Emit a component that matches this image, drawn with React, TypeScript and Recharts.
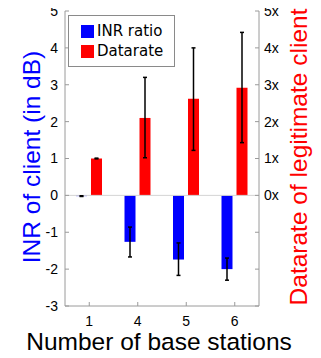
import React from 'react';
import {
  ComposedChart,
  Bar,
  XAxis,
  YAxis,
  ErrorBar,
  ReferenceLine,
  Legend,
} from 'recharts';

const stations = ['1', '4', '5', '6'];

// INR of client (dB), with error bounds
const inrRatio = [-0.02, -1.26, -1.74, -2.0];
const inrLow = [-0.03, -1.67, -2.17, -2.3];
const inrHigh = [-0.01, -0.86, -1.29, -1.7];

// datarate of legitimate client (x), with error bounds
const datarate = [1.0, 2.1, 2.62, 2.92];
const rateLow = [0.99, 1.02, 1.22, 1.43];
const rateHigh = [1.01, 3.2, 4.0, 4.42];

const leftTicks = [-3, -2, -1, 0, 1, 2, 3, 4, 5];

const AXIS = '#9a9a9a';

const data = stations.map((s, i) => ({
  name: s,
  inr: inrRatio[i],
  inrErr: [inrRatio[i] - inrLow[i], inrHigh[i] - inrRatio[i]],
  rate: datarate[i],
  rateErr: [datarate[i] - rateLow[i], rateHigh[i] - datarate[i]],
}));

function LegendBox() {
  const items = [
    { label: 'INR ratio', color: '#0000ff' },
    { label: 'Datarate', color: '#ff0000' },
  ];
  return (
    <div
      style={{
        width: 105,
        height: 45,
        border: '1px solid #8a8a8a',
        background: '#fff',
        fontFamily: '"DejaVu Sans", sans-serif',
        fontSize: 15,
        paddingTop: 5,
        boxSizing: 'content-box',
      }}
    >
      {items.map((it) => (
        <div key={it.label} style={{ display: 'flex', alignItems: 'center', height: 20, marginLeft: 12 }}>
          <span style={{ width: 13, height: 13, background: it.color, marginRight: 3 }} />
          <span style={{ color: '#000' }}>{it.label}</span>
        </div>
      ))}
    </div>
  );
}

export default function App() {
  return (
    <div style={{ marginLeft: -8, marginTop: -8, width: 321, height: 358 }}>
      <ComposedChart
        width={321}
        height={358}
        data={data}
        margin={{ top: 11, right: 0, bottom: 0, left: 0 }}
        style={{ fontFamily: '"Liberation Sans", Arial, sans-serif' }}
      >
        <XAxis
          dataKey="name"
          xAxisId="bottom"
          height={52}
          stroke={AXIS}
          tickSize={-4}
          tickMargin={14}
          tick={{ fill: '#000', fontSize: 14 }}
        />
        <XAxis
          dataKey="name"
          xAxisId="top"
          orientation="top"
          height={0}
          stroke={AXIS}
          tickSize={-4}
          tickFormatter={() => ''}
        />
        <YAxis
          yAxisId="left"
          width={65}
          domain={[-3, 5]}
          ticks={leftTicks}
          interval={0}
          stroke={AXIS}
          tickSize={-4}
          tickMargin={11}
          tick={{ fill: '#000', fontSize: 14 }}
        />
        <YAxis
          yAxisId="right"
          orientation="right"
          width={62}
          domain={[-3, 5]}
          ticks={leftTicks}
          interval={0}
          stroke={AXIS}
          tickSize={-4}
          tickMargin={9}
          tick={{ fill: '#000', fontSize: 14 }}
          tickFormatter={(v: number) => (v >= 0 ? `${v}x` : '')}
        />
        <ReferenceLine y={0} yAxisId="left" xAxisId="bottom" stroke="#d4d4d4" strokeWidth={1} />
        <Bar
          dataKey="inr"
          name="INR ratio"
          xAxisId="bottom"
          yAxisId="left"
          fill="#0000ff"
          barSize={11}
          isAnimationActive={false}
        >
          <ErrorBar dataKey="inrErr" direction="y" stroke="#000" strokeWidth={1.5} width={2} />
        </Bar>
        <Bar
          dataKey="rate"
          name="Datarate"
          xAxisId="bottom"
          yAxisId="right"
          fill="#ff0000"
          barSize={11}
          isAnimationActive={false}
        >
          <ErrorBar dataKey="rateErr" direction="y" stroke="#000" strokeWidth={1.5} width={2} />
        </Bar>
        <Legend
          layout="horizontal"
          verticalAlign="middle"
          align="center"
          content={() => <LegendBox />}
          wrapperStyle={{ top: 15, left: 68, width: 107, height: 47 }}
        />
        <text
          transform="translate(40,157) rotate(-90)"
          textAnchor="middle"
          fontSize={24.5}
          fill="#0000ff"
        >
          INR of client (in dB)
        </text>
        <text
          transform="translate(307,157) rotate(-90)"
          textAnchor="middle"
          fontSize={24.5}
          fill="#ff0000"
        >
          Datarate of legitimate client
        </text>
        <text x={159} y={350} textAnchor="middle" fontSize={24.5} fill="#000">
          Number of base stations
        </text>
      </ComposedChart>
    </div>
  );
}
